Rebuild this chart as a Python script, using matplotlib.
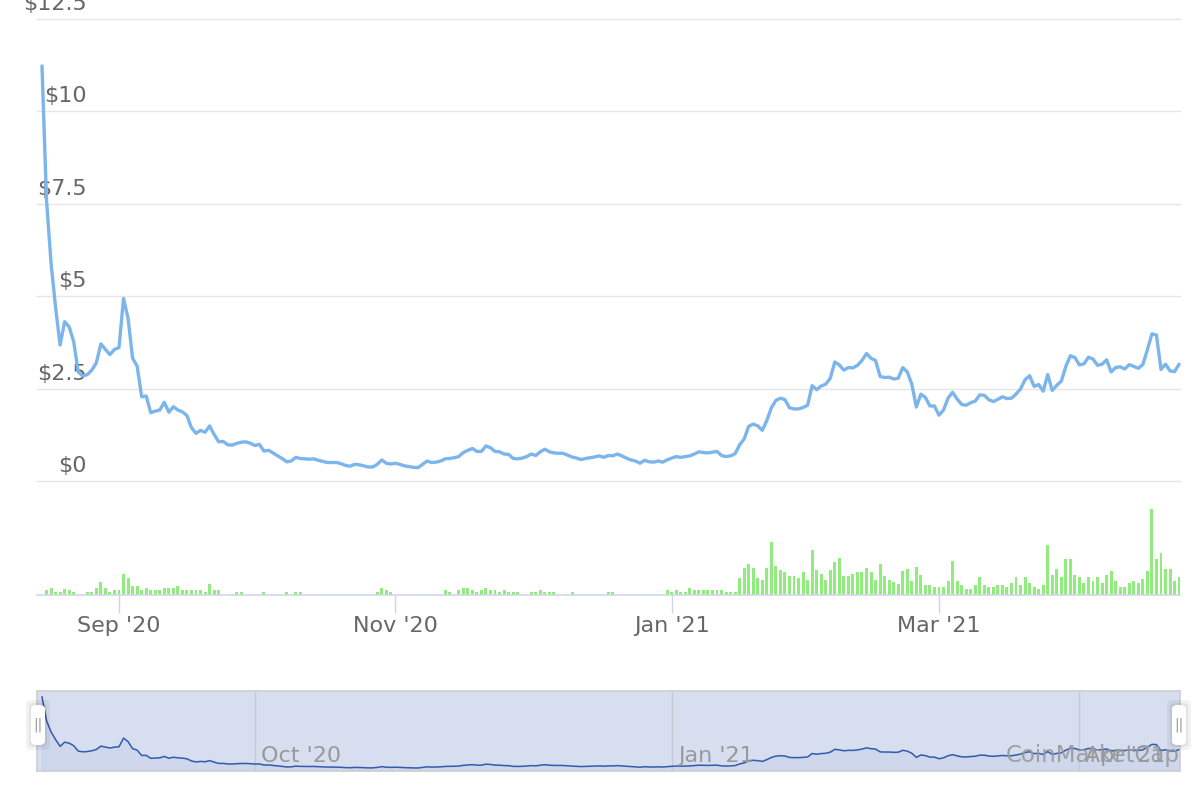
import pandas as pd
import matplotlib
matplotlib.use("Agg")
import matplotlib.pyplot as plt
import matplotlib.dates as mdates
from matplotlib.patches import FancyBboxPatch

# ==============
# data, one value per day starting 2020-08-15
# ==============
start_date = "2020-08-15"

price = [
    11.23, 7.6, 5.9, 4.7, 3.68, 4.31, 4.17, 3.77, 2.95, 2.84,
    2.88, 3.0, 3.2, 3.71, 3.56, 3.42, 3.56, 3.61, 4.94, 4.4,
    3.32, 3.11, 2.28, 2.30, 1.85, 1.89, 1.92, 2.13, 1.86, 2.01,
    1.92, 1.87, 1.77, 1.44, 1.29, 1.37, 1.32, 1.49, 1.26, 1.06,
    1.07, 0.98, 0.97, 1.02, 1.05, 1.06, 1.02, 0.96, 0.99, 0.81,
    0.83, 0.76, 0.68, 0.61, 0.52, 0.54, 0.64, 0.61, 0.60, 0.59,
    0.60, 0.56, 0.53, 0.50, 0.50, 0.50, 0.47, 0.42, 0.40, 0.45,
    0.44, 0.41, 0.38, 0.38, 0.45, 0.57, 0.48, 0.46, 0.48, 0.45,
    0.41, 0.39, 0.37, 0.36, 0.45, 0.54, 0.50, 0.51, 0.54, 0.60,
    0.61, 0.63, 0.66, 0.77, 0.83, 0.88, 0.80, 0.80, 0.95, 0.90,
    0.80, 0.79, 0.73, 0.72, 0.61, 0.60, 0.62, 0.66, 0.73, 0.69,
    0.79, 0.86, 0.79, 0.76, 0.75, 0.75, 0.70, 0.65, 0.62, 0.58,
    0.61, 0.63, 0.65, 0.68, 0.64, 0.69, 0.68, 0.73, 0.68, 0.62,
    0.57, 0.54, 0.48, 0.56, 0.52, 0.51, 0.54, 0.51, 0.57, 0.62,
    0.66, 0.64, 0.66, 0.68, 0.73, 0.79, 0.77, 0.76, 0.78, 0.80,
    0.69, 0.66, 0.68, 0.74, 0.98, 1.14, 1.48, 1.54, 1.49, 1.37,
    1.64, 1.98, 2.18, 2.24, 2.20, 1.98, 1.95, 1.95, 1.99, 2.05,
    2.58, 2.47, 2.57, 2.62, 2.78, 3.22, 3.14, 3.00, 3.07, 3.06,
    3.13, 3.26, 3.45, 3.32, 3.26, 2.83, 2.80, 2.81, 2.76, 2.78,
    3.07, 2.95, 2.62, 2.00, 2.35, 2.26, 2.03, 2.03, 1.78, 1.92,
    2.24, 2.40, 2.22, 2.07, 2.05, 2.12, 2.16, 2.33, 2.32, 2.20,
    2.15, 2.21, 2.28, 2.23, 2.24, 2.35, 2.49, 2.74, 2.85, 2.56,
    2.61, 2.43, 2.88, 2.45, 2.59, 2.70, 3.10, 3.39, 3.34, 3.14,
    3.17, 3.35, 3.30, 3.13, 3.16, 3.28, 2.95, 3.07, 3.09, 3.03,
    3.15, 3.10, 3.05, 3.15, 3.55, 3.98, 3.95, 3.02, 3.16, 2.98,
    2.96, 3.16,
]

# volume, relative units (no axis shown on the chart)
volume = [
    0, 4.7, 6.7, 2.7, 2.7, 6, 4.7, 2.7, 0, 0,
    2.7, 2.7, 6.7, 12.7, 6.7, 2.7, 4.7, 4.7, 20.7, 16.7,
    8.7, 8.7, 4.7, 6.7, 4.7, 4.7, 4.7, 6.7, 6.7, 6.7,
    8.7, 4.7, 4.7, 4.7, 4.7, 4.7, 2.7, 10.7, 5.3, 4.7,
    0, 0, 0, 2.7, 2.7, 0, 0, 0, 0, 2.7,
    0, 0, 0, 0, 2.7, 0, 2.7, 2.7, 0, 0,
    0, 0, 0, 0, 0, 0, 0, 0, 0, 0,
    0, 0, 0, 0, 2.7, 6.7, 4.7, 2.7, 0, 0,
    0, 0, 0, 0, 0, 0, 0, 0, 0, 4.7,
    2.7, 0, 4.7, 6.7, 6.7, 4.7, 2.7, 4.7, 6.7, 4.7,
    4.7, 3.3, 4.7, 3.3, 3.3, 3.3, 0, 0, 2.7, 3.3,
    4.7, 3.3, 3.3, 2.7, 0, 0, 0, 2.7, 0, 0,
    0, 0, 0, 0, 0, 2.7, 2.7, 0, 0, 0,
    0, 0, 0, 0, 0, 0, 0, 0, 4.7, 2.7,
    4.7, 2.7, 2.7, 6.7, 4.7, 4.7, 4.7, 4.7, 4.7, 4.7,
    4.7, 2.7, 2.7, 2.7, 16.7, 26.7, 30.7, 26.7, 16.7, 14.7,
    26.7, 52.7, 28.7, 24.7, 22.7, 18.7, 18.7, 16.7, 22.7, 14.7,
    44.7, 24.7, 20.7, 14.7, 24.7, 32.7, 36.7, 18.7, 18.7, 20.7,
    22.7, 22.7, 26.7, 22.7, 14.7, 30.7, 18.7, 14.7, 12.7, 10.7,
    24, 26, 14, 28, 20, 10, 10, 8, 8, 8,
    14, 34, 14, 10, 6, 6, 10, 18, 10, 8,
    8, 10, 10, 8, 12, 18, 10, 18, 12, 8,
    6, 10, 50, 20, 26, 18, 36, 36, 20, 18,
    12, 18, 14, 18, 12, 20, 24, 14, 8, 8,
    12, 14, 12, 16, 24, 86, 36, 42, 26, 26,
    14, 18,
]

price_ticks = [0, 2.5, 5, 7.5, 10, 12.5]
price_labels = ["$0", "$2.5", "$5", "$7.5", "$10", "$12.5"]
month_ticks = ["2020-09-01", "2020-11-01", "2021-01-01", "2021-03-01"]
nav_ticks = ["2020-10-01", "2021-01-01", "2021-04-01"]

dates = pd.date_range(start_date, periods=len(price), freq="D")

# ============
# layout helpers (pixel boxes on a 1200x800 canvas)
# ============
W, H = 1200, 800


def box(left, top, right, bottom):
    return [left / W, 1 - bottom / H, (right - left) / W, (bottom - top) / H]


x0 = mdates.date2num(dates[0])
xlim = (x0 - 1.1, x0 + 251.2)

fig = plt.figure(figsize=(12, 8), dpi=100)

# ---- price ----
ax = fig.add_axes(box(37, 19, 1180, 481))
ax.set_xlim(xlim)
ax.set_ylim(0, 12.5)
for s in ax.spines.values():
    s.set_visible(False)
ax.tick_params(left=False, labelleft=False, bottom=False, labelbottom=False)
for v, lab in zip(price_ticks, price_labels):
    # gridline (unclipped so the $0 / $12.5 lines show fully)
    ax.axhline(v, color="#e6e6e6", lw=1, clip_on=False, zorder=1)
    ax.annotate(lab, xy=(0.0437, v), xycoords=("axes fraction", "data"),
                xytext=(0, 5), textcoords="offset pixels",
                ha="right", va="bottom", fontsize=16, color="#666666",
                annotation_clip=False)
ax.plot(dates, price, color="#7cb5ec", lw=2.4,
        solid_joinstyle="round", solid_capstyle="round", clip_on=False, zorder=3)

# ---- volume ----
axv = fig.add_axes(box(37, 495, 1180, 595))
axv.set_xlim(xlim)
axv.set_ylim(0, 100)
axv.bar(dates, volume, width=0.65, color="#90ed7d")
for name, s in axv.spines.items():
    s.set_visible(name == "bottom")
axv.spines["bottom"].set_color("#ccd6eb")
axv.spines["bottom"].set_linewidth(1.1)
axv.set_yticks([])
axv.set_xticks(pd.to_datetime(month_ticks))
axv.xaxis.set_major_formatter(mdates.DateFormatter("%b '%y"))
axv.tick_params(axis="x", length=13, width=1, color="#ccd6eb", pad=2,
                labelsize=16, labelcolor="#666666")
axv.set_facecolor("none")

# ---- navigator ----
axn = fig.add_axes(box(37, 691, 1180, 771))
axn.set_xlim(xlim)
axn.set_ylim(-0.1, 12.15)
axn.set_facecolor("#d7deef")
for s in axn.spines.values():
    s.set_color("#cccccc")
    s.set_linewidth(1.1)
axn.set_xticks(pd.to_datetime(nav_ticks))
axn.grid(axis="x", color="#c3cad6", lw=1)
axn.tick_params(left=False, labelleft=False, bottom=False, labelbottom=False)
axn.fill_between(dates, price, -0.1, color="#335cad", alpha=0.05)
axn.plot(dates, price, color="#335cad", lw=1.1)
for t in pd.to_datetime(nav_ticks):
    axn.annotate(t.strftime("%b '%y"), xy=(t, 0.06), xycoords=("data", "axes fraction"),
                 xytext=(6, 0), textcoords="offset pixels",
                 ha="left", va="bottom", fontsize=16, color="#999999")

fig.text(1180 / W, 1 - 767 / H, "CoinMarketCap", ha="right", va="bottom",
         fontsize=16.5, color="#999999", alpha=0.9)


# navigator handles
def handle(cx):
    for pad, col, a in [(5, "#000000", 0.05), (2, "#000000", 0.06), (0, "white", 1.0)]:
        p = FancyBboxPatch(((cx - 7 - pad) / W, 1 - (745 + pad) / H),
                           (14 + 2 * pad) / W, (40 + 2 * pad) / H,
                           boxstyle="round,pad=0,rounding_size=0.005",
                           transform=fig.transFigure, facecolor=col,
                           edgecolor="none", alpha=a)
        fig.add_artist(p)
    fig.text(cx / W, 1 - 725 / H, "||", ha="center", va="center",
             fontsize=10, color="#999999")


handle(38)
handle(1179)

fig.savefig("out.png", dpi=100)
